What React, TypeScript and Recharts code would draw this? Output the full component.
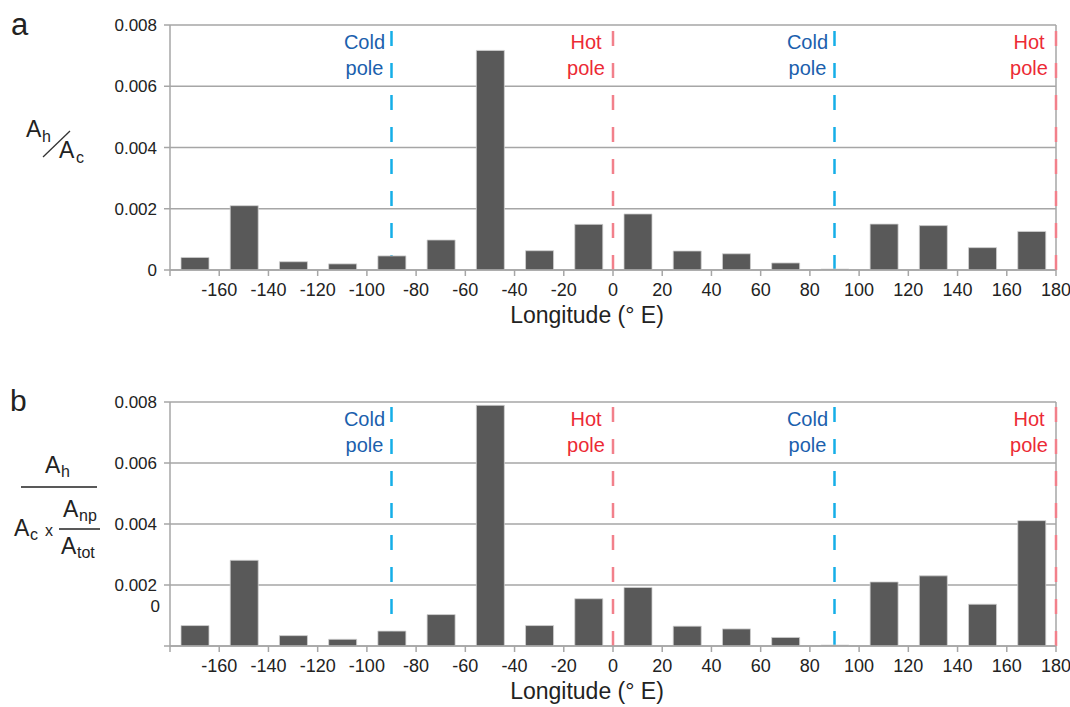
import React from 'react'
import { BarChart, Bar, XAxis, YAxis, CartesianGrid, ReferenceLine, Label } from 'recharts'

const longitudes = [-170, -150, -130, -110, -90, -70, -50, -30, -10, 10, 30, 50, 70, 90, 110, 130, 150, 170]
const ratioA = [0.00041, 0.0021, 0.00027, 0.0002, 0.00046, 0.00098, 0.00717, 0.00063, 0.00149, 0.00183, 0.00062, 0.00053, 0.00023, 0.00003, 0.0015, 0.00145, 0.00073, 0.00126]
const ratioB = [0.00067, 0.00281, 0.00034, 0.00022, 0.00049, 0.00103, 0.00789, 0.00067, 0.00155, 0.00192, 0.00065, 0.00056, 0.00028, 0.00003, 0.0021, 0.0023, 0.00137, 0.00411]
const xTicks = [-180, -160, -140, -120, -100, -80, -60, -40, -20, 0, 20, 40, 60, 80, 100, 120, 140, 160, 180]
const yTicks = [0, 0.002, 0.004, 0.006, 0.008]
const poleLons = [-90, 0, 90, 180]
const poleNames = ['Cold', 'Hot', 'Cold', 'Hot']

const FONT = '"Liberation Sans", Arial, sans-serif'
const GRID = '#a6a6a6'
const BAR = '#595959'
const LINE_COLOR: Record<string, string> = { Cold: '#15aee8', Hot: '#f2808b' }
const TEXT_COLOR: Record<string, string> = { Cold: '#1b60ad', Hot: '#ec2a35' }

function PoleLabel(props: any) {
  const { viewBox, name } = props
  if (!viewBox) return null
  const cx = viewBox.x - 27
  return (
    <text textAnchor="middle" fill={TEXT_COLOR[name]} fontSize={20} fontFamily={FONT}>
      <tspan x={cx} y={viewBox.y + 24}>{name}</tspan>
      <tspan x={cx} y={viewBox.y + 50}>pole</tspan>
    </text>
  )
}

function AxisTitle(props: any) {
  const { viewBox } = props
  if (!viewBox) return null
  return (
    <text x={viewBox.x + viewBox.width / 2 - 26} y={viewBox.y + 53} textAnchor="middle" fontSize={23} fill="#222" fontFamily={FONT}>
      Longitude (° E)
    </text>
  )
}

function YTick(props: any) {
  const { x, y, payload, shiftZero } = props
  const v = payload.value
  const label = v === 0 ? '0' : v.toFixed(3)
  const zero = shiftZero && v === 0
  return (
    <text x={zero ? x + 3 : x} y={zero ? y - 40 : y} dy="0.355em" textAnchor="end" fontSize={17} fill="#222" fontFamily={FONT}>
      {label}
    </text>
  )
}

function Panel({ values, height, bottom, shiftZero }: { values: number[]; height: number; bottom: number; shiftZero?: boolean }) {
  const data = longitudes.map((lon, i) => ({ lon, value: values[i] }))
  return (
    <BarChart width={1070} height={height} data={data} margin={{ top: 25, right: 14, left: 0, bottom }}>
      <CartesianGrid vertical={false} stroke={GRID} strokeWidth={1.5} />
      <XAxis
        dataKey="lon"
        type="number"
        domain={[-180, 180]}
        ticks={xTicks}
        interval={0}
        tickFormatter={(v) => (v === -180 ? '' : String(v))}
        tickSize={6}
        tickMargin={7}
        height={30}
        stroke={GRID}
        strokeWidth={1.5}
        tick={{ fill: '#222', fontSize: 18, fontFamily: FONT }}
      >
        <Label content={<AxisTitle />} />
      </XAxis>
      <YAxis
        domain={[0, 0.008]}
        ticks={yTicks}
        width={170}
        tickSize={6}
        tickMargin={7}
        stroke={GRID}
        strokeWidth={1.5}
        tick={<YTick shiftZero={shiftZero} />}
      />
      <ReferenceLine x={180} stroke={GRID} strokeWidth={1.5} zIndex={100} />
      {poleLons.map((lon, i) => (
        <ReferenceLine
          key={lon}
          x={lon}
          stroke={LINE_COLOR[poleNames[i]]}
          strokeWidth={2.5}
          strokeDasharray="15 17"
          zIndex={100}
          label={<PoleLabel name={poleNames[i]} />}
        />
      ))}
      <Bar dataKey="value" fill={BAR} stroke="#d0d0d0" strokeWidth={0.8} barSize={28} isAnimationActive={false} />
    </BarChart>
  )
}

export default function App() {
  return (
    <div style={{ position: 'absolute', left: 0, top: 0, width: 1070, height: 707, background: '#fff', fontFamily: FONT }}>
      <div style={{ position: 'absolute', left: 0, top: 0 }}>
        <Panel values={ratioA} height={340} bottom={40} />
      </div>
      <div style={{ position: 'absolute', left: 0, top: 377 }}>
        <Panel values={ratioB} height={330} bottom={31} shiftZero />
      </div>
      <svg width={1070} height={707} style={{ position: 'absolute', left: 0, top: 0, pointerEvents: 'none' }} fontFamily={FONT} fill="#222">
        <text x={11} y={35} fontSize={31}>a</text>
        <text x={10} y={411} fontSize={30}>b</text>

        <text x={26} y={137} fontSize={23}>A</text>
        <text x={42} y={142} fontSize={16}>h</text>
        <line x1={43} y1={157} x2={70} y2={131} stroke="#333" strokeWidth={1.3} />
        <text x={59} y={158} fontSize={23}>A</text>
        <text x={76} y={163} fontSize={16}>c</text>

        <text x={45} y={473} fontSize={23}>A</text>
        <text x={61} y={477} fontSize={16}>h</text>
        <line x1={21} y1={487} x2={97} y2={487} stroke="#222" strokeWidth={1.6} />
        <text x={14} y={536} fontSize={23}>A</text>
        <text x={30} y={540} fontSize={16}>c</text>
        <text x={45} y={536} fontSize={16}>x</text>
        <text x={63} y={517} fontSize={23}>A</text>
        <text x={79} y={521} fontSize={16}>np</text>
        <line x1={59} y1={529} x2={100} y2={529} stroke="#222" strokeWidth={1.4} />
        <text x={61} y={554} fontSize={23}>A</text>
        <text x={77} y={558} fontSize={16}>tot</text>
      </svg>
    </div>
  )
}
